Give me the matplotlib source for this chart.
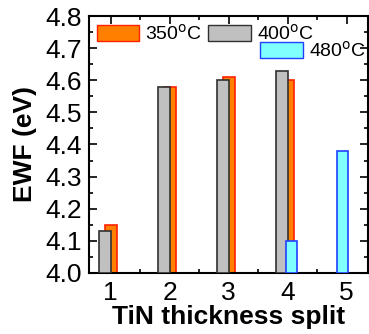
import matplotlib.pyplot as plt
from matplotlib.ticker import MultipleLocator
from matplotlib.patches import Patch

plt.rcParams['font.family'] = ['Liberation Sans', 'DejaVu Sans']

# datos
splits = [1, 2, 3, 4, 5]
ewf_350 = [4.15, 4.58, 4.61, 4.60]
ewf_400 = [4.13, 4.58, 4.60, 4.63]
split_480 = [4, 5]
ewf_480 = [4.10, 4.38]
off_480 = [0.06, -0.07]

base = 4.0
ancho = 0.2

fig = plt.figure(figsize=(3.69, 3.34), dpi=100)
ax = fig.add_axes([0.241, 0.183, 0.756, 0.769])

# barras: naranja atras, gris encima, cian al final
x350 = [s + 0.0 for s in splits[:4]]
x400 = [s - 0.1 for s in splits[:4]]
x480 = [s + o for s, o in zip(split_480, off_480)]
ax.bar(x350, [v - base for v in ewf_350], ancho, bottom=base,
       color='#FF8000', edgecolor='#FF2000', linewidth=1.2, zorder=2)
ax.bar(x400, [v - base for v in ewf_400], ancho, bottom=base,
       color='#C0C0C0', edgecolor='#303030', linewidth=1.2, zorder=3)
ax.bar(x480, [v - base for v in ewf_480], 0.18, bottom=base,
       color='#80FFFF', edgecolor='#2040FF', linewidth=1.2, zorder=4)

ax.set_xlim(0.63, 5.36)
ax.set_ylim(4.0, 4.8)
ax.set_xticks(splits)
ax.xaxis.set_minor_locator(MultipleLocator(0.5))
ax.yaxis.set_major_locator(MultipleLocator(0.1))
ax.yaxis.set_minor_locator(MultipleLocator(0.05))
ax.yaxis.set_major_formatter(plt.FormatStrFormatter('%.1f'))
ax.tick_params(which='both', direction='in', top=True, right=True,
               width=1.2, labelsize=19)
ax.tick_params(axis='y', pad=5)
ax.tick_params(axis='x', pad=6)
ax.tick_params(which='major', length=6)
ax.tick_params(which='minor', length=3)
for sp in ax.spines.values():
    sp.set_linewidth(1.5)

ax.set_xlabel('TiN thickness split', fontsize=19, fontweight='bold', labelpad=0)
ax.set_ylabel('EWF (eV)', fontsize=19, fontweight='bold', labelpad=6)

# leyenda en dos partes
h350 = Patch(facecolor='#FF8000', edgecolor='#FF2000', label='350$^{\\rm o}$C')
h400 = Patch(facecolor='#C0C0C0', edgecolor='#303030', label='400$^{\\rm o}$C')
h480 = Patch(facecolor='#80FFFF', edgecolor='#2040FF', label='480$^{\\rm o}$C')
leg1 = ax.legend(handles=[h350, h400], ncol=2, loc='upper left',
                 bbox_to_anchor=(0.0, 1.0), frameon=False, fontsize=14,
                 handlelength=2.2, handleheight=0.9, handletextpad=0.3,
                 columnspacing=0.3, borderaxespad=0.0)
ax.add_artist(leg1)
ax.legend(handles=[h480], loc='upper left', bbox_to_anchor=(0.585, 0.935),
          frameon=False, fontsize=14, handlelength=2.2, handleheight=0.9,
          handletextpad=0.3, borderaxespad=0.0)

fig.savefig('out.png', dpi=100)
